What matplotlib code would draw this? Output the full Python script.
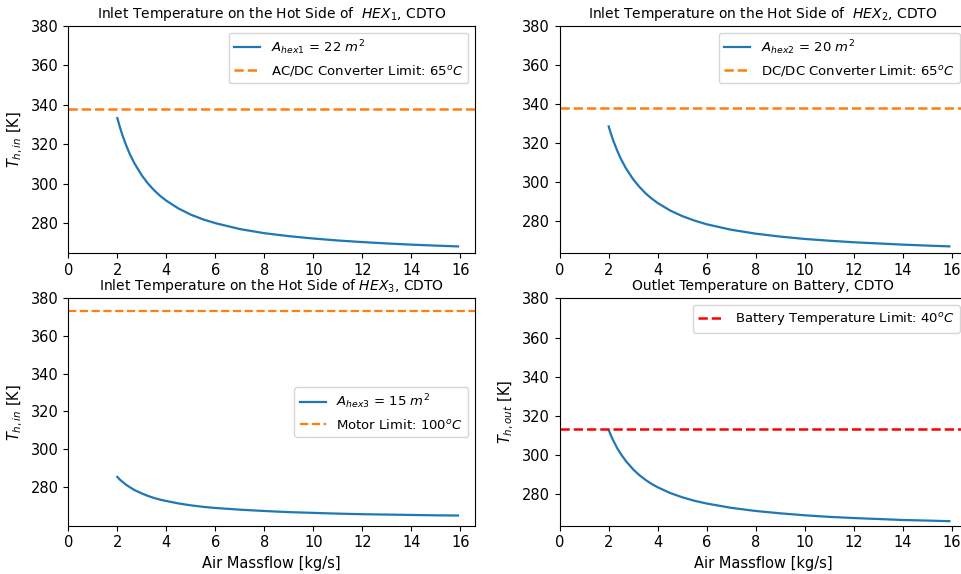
import numpy as np
import matplotlib
matplotlib.use("Agg")
import matplotlib.pyplot as plt

plt.rcParams["font.size"] = 10.5

# air massflow [kg/s]
massflow = [2, 2.1, 2.2, 2.35, 2.5, 2.7, 3, 3.25, 3.5, 3.75, 4, 4.5, 5, 5.5,
            6, 7, 8, 9, 10, 11, 12, 13, 14, 15, 15.9]

# temperatures [K]
t_hex1 = [333.3, 328.9, 324.9, 319.8, 315.3, 310.3, 304.2, 300.1, 296.7, 293.8,
          291.4, 287.4, 284.3, 281.9, 280.0, 277.0, 274.9, 273.4, 272.2, 271.2,
          270.4, 269.7, 269.1, 268.6, 268.2]
t_hex2 = [328.6, 324.5, 320.9, 316.1, 311.9, 307.2, 301.5, 297.7, 294.4, 291.7,
          289.4, 285.6, 282.7, 280.4, 278.5, 275.7, 273.7, 272.2, 271.0, 270.1,
          269.3, 268.7, 268.1, 267.6, 267.2]
t_hex3 = [285.3, 283.9, 282.8, 281.2, 279.9, 278.3, 276.5, 275.2, 274.1, 273.2,
          272.5, 271.2, 270.2, 269.4, 268.8, 267.9, 267.2, 266.6, 266.2, 265.8,
          265.5, 265.3, 265.1, 264.9, 264.8]
t_batt = [312.8, 309.8, 307.1, 303.5, 300.5, 297.0, 292.7, 289.8, 287.4, 285.3,
          283.6, 280.7, 278.5, 276.7, 275.3, 273.1, 271.5, 270.3, 269.3, 268.5,
          267.9, 267.4, 266.9, 266.6, 266.3]

# component limits [K]
lim_acdc = 338.15
lim_dcdc = 338.15
lim_motor = 373.15
lim_batt = 313.15

fig = plt.figure(figsize=(9.62, 5.74), dpi=100)

w, h = 0.4228, 0.396
ax1 = fig.add_axes([0.0710, 0.5587, w, h])
ax2 = fig.add_axes([0.5818, 0.5587, w, h])
ax3 = fig.add_axes([0.0710, 0.0841, w, h])
ax4 = fig.add_axes([0.5818, 0.0841, w, h])

# ── HEX1 ─────────────────────────────────────────────
ax1.plot(massflow, t_hex1, color="C0", lw=1.6, label=r"$A_{hex1}$ = 22 $m^2$")
ax1.axhline(lim_acdc, color="C1", ls="--", lw=1.8,
            label=r"AC/DC Converter Limit: 65$^oC$")
ax1.set_title(r"Inlet Temperature on the Hot Side of  $HEX_1$, CDTO",
              fontsize=10)
ax1.set_ylabel(r"$T_{h,in}$ [K]")
ax1.legend(loc="upper right", fontsize=9.5)

# ── HEX2 ─────────────────────────────────────────────
ax2.plot(massflow, t_hex2, color="C0", lw=1.6, label=r"$A_{hex2}$ = 20 $m^2$")
ax2.axhline(lim_dcdc, color="C1", ls="--", lw=1.8,
            label=r"DC/DC Converter Limit: 65$^oC$")
ax2.set_title(r"Inlet Temperature on the Hot Side of  $HEX_2$, CDTO",
              fontsize=10)
ax2.legend(loc="upper right", fontsize=9.5)

# ── HEX3 ─────────────────────────────────────────────
ax3.plot(massflow, t_hex3, color="C0", lw=1.6, label=r"$A_{hex3}$ = 15 $m^2$")
ax3.axhline(lim_motor, color="C1", ls="--", lw=1.6,
            label=r"Motor Limit: 100$^oC$")
ax3.set_title(r"Inlet Temperature on the Hot Side of $HEX_3$, CDTO",
              fontsize=10)
ax3.set_ylabel(r"$T_{h,in}$ [K]")
ax3.set_xlabel("Air Massflow [kg/s]")
ax3.legend(loc="center right", fontsize=9.5)

# ── Battery ──────────────────────────────────────────
ax4.plot(massflow, t_batt, color="C0", lw=1.6)
ax4.axhline(lim_batt, color="red", ls="--", lw=1.8,
            label=r"Battery Temperature Limit: 40$^oC$")
ax4.set_title("Outlet Temperature on Battery, CDTO", fontsize=10)
ax4.set_ylabel(r"$T_{h,out}$ [K]")
ax4.set_xlabel("Air Massflow [kg/s]")
ax4.legend(loc="upper right", fontsize=9.5)

for ax in (ax1, ax2, ax3, ax4):
    ax.set_xlim(left=0)
    ax.set_ylim(top=380)
    ax.set_xticks(np.arange(0, 17, 2))
    ax.set_yticks(np.arange(280, 381, 20))

fig.savefig("out.png", dpi=100)
